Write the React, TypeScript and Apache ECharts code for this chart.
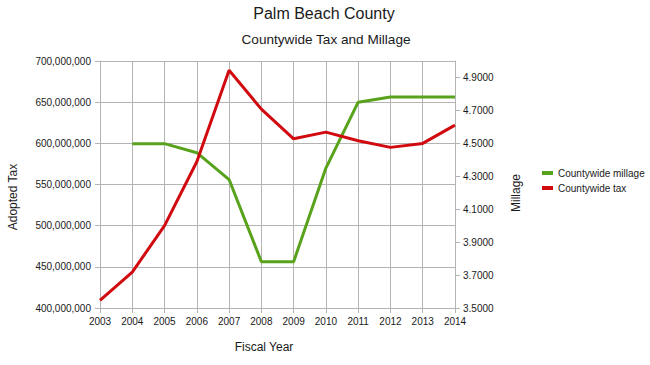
import React, { useEffect, useRef } from "react";
import * as echarts from "echarts";

const years = ["2003", "2004", "2005", "2006", "2007", "2008", "2009", "2010", "2011", "2012", "2013", "2014"];
const countywideMillage = [null, 4.498, 4.498, 4.443, 4.28, 3.7811, 3.7811, 4.3499, 4.75, 4.7815, 4.7815, 4.7815];
const countywideTax = [409200000, 443600000, 500000000, 577600000, 688700000, 641500000, 605500000, 613600000, 603100000, 595100000, 599900000, 622100000];

const FONT = "Liberation Sans, Arial, sans-serif";
const GRID_COLOR = "#b4b4b4";
const TEXT_COLOR = "#1a1a1a";

export default function App() {
  const ref = useRef<HTMLDivElement>(null);
  useEffect(() => {
    if (!ref.current) return;
    const chart = echarts.init(ref.current, null, { renderer: "svg" });
    chart.setOption({
      animation: false,
      backgroundColor: "#ffffff",
      textStyle: { fontFamily: FONT },
      grid: { left: 100, right: 195, top: 61, bottom: 57 },
      graphic: [
        { type: "text", x: 324, y: 13, style: { text: "Palm Beach County", fontSize: 16, fontFamily: FONT, fill: TEXT_COLOR, textAlign: "center", textVerticalAlign: "middle" } },
        { type: "text", x: 326, y: 39, style: { text: "Countywide Tax and Millage", fontSize: 13.6, fontFamily: FONT, fill: TEXT_COLOR, textAlign: "center", textVerticalAlign: "middle" } },
        { type: "text", x: 264, y: 347, style: { text: "Fiscal Year", fontSize: 12, fontFamily: FONT, fill: TEXT_COLOR, textAlign: "center", textVerticalAlign: "middle" } },
        { type: "text", x: 13, y: 197, rotation: Math.PI / 2, style: { text: "Adopted Tax", fontSize: 12, fontFamily: FONT, fill: TEXT_COLOR, textAlign: "center", textVerticalAlign: "middle" } },
        { type: "text", x: 516, y: 193, rotation: Math.PI / 2, style: { text: "Millage", fontSize: 12, fontFamily: FONT, fill: TEXT_COLOR, textAlign: "center", textVerticalAlign: "middle" } },
      ],
      legend: {
        orient: "vertical",
        left: 542,
        top: 168,
        padding: 0,
        itemWidth: 11,
        itemHeight: 4,
        itemGap: 5,
        icon: "rect",
        textStyle: { fontSize: 10, color: TEXT_COLOR, fontFamily: FONT },
        data: ["Countywide millage", "Countywide tax"],
      },
      xAxis: {
        type: "category",
        data: years,
        boundaryGap: false,
        axisLine: { show: true, lineStyle: { color: GRID_COLOR } },
        axisTick: { show: true, length: 5, alignWithLabel: true, lineStyle: { color: GRID_COLOR } },
        axisLabel: { fontSize: 10, color: TEXT_COLOR, margin: 8, fontFamily: FONT },
        splitLine: { show: true, lineStyle: { color: GRID_COLOR } },
      },
      yAxis: [
        {
          type: "value",
          min: 400000000,
          max: 700000000,
          interval: 50000000,
          position: "left",
          axisLine: { show: true, lineStyle: { color: GRID_COLOR } },
          axisTick: { show: true, length: 5, lineStyle: { color: GRID_COLOR } },
          axisLabel: {
            fontSize: 10,
            color: TEXT_COLOR,
            margin: 9,
            fontFamily: FONT,
            formatter: (v: number) => Math.round(v).toLocaleString("en-US"),
          },
          splitLine: { show: true, lineStyle: { color: GRID_COLOR } },
        },
        {
          type: "value",
          min: 3.5,
          max: 5.0,
          interval: 0.2,
          position: "right",
          axisLine: { show: true, lineStyle: { color: GRID_COLOR } },
          axisTick: { show: true, length: 5, lineStyle: { color: GRID_COLOR } },
          axisLabel: {
            fontSize: 10,
            color: TEXT_COLOR,
            margin: 8,
            fontFamily: FONT,
            showMaxLabel: false,
            formatter: (v: number) => v.toFixed(4),
          },
          splitLine: { show: false },
        },
      ],
      series: [
        {
          name: "Countywide millage",
          type: "line",
          yAxisIndex: 1,
          data: countywideMillage,
          showSymbol: false,
          symbol: "none",
          itemStyle: { color: "#58a21c" },
          lineStyle: { color: "#58a21c", width: 3 },
        },
        {
          name: "Countywide tax",
          type: "line",
          yAxisIndex: 0,
          data: countywideTax,
          showSymbol: false,
          symbol: "none",
          itemStyle: { color: "#d10a10" },
          lineStyle: { color: "#d10a10", width: 3 },
        },
      ],
    });
    return () => chart.dispose();
  }, []);
  return <div ref={ref} style={{ width: 650, height: 365, position: "absolute", left: 0, top: 0 }} />;
}
